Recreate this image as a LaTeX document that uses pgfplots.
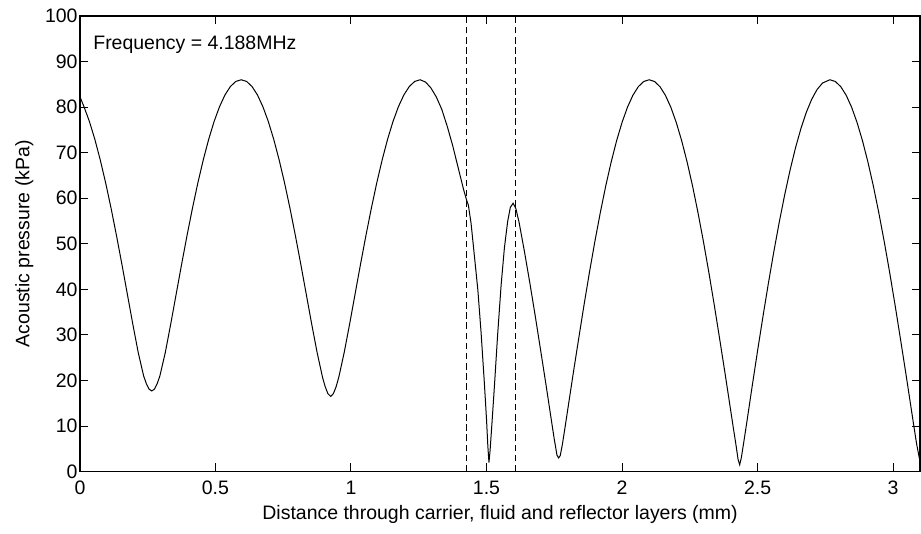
\documentclass[border=0pt]{standalone}
\usepackage{fontspec}
\setmainfont{Liberation Sans}
\usepackage{pgfplots}
\pgfplotsset{compat=1.18}
\begin{document}
\begin{tikzpicture}
\fontsize{9.75}{11.5}\selectfont
\begin{axis}[
  at={(0,0)}, anchor=south west,
  width=420.5pt, height=228pt, scale only axis,
  xmin=0, xmax=3.1, ymin=0, ymax=100,
  xtick={0,0.5,1,1.5,2,2.5,3},
  ytick={0,10,20,30,40,50,60,70,80,90,100},
  tick align=inside, major tick length=4.2pt,
  axis line style={line width=0.75pt},
  every tick/.style={black, line width=0.5pt},
  /pgf/number format/assume math mode=true,
  tick label style={font=\fontsize{9.75}{11.5}\selectfont},
  yticklabel style={inner sep=1pt},
  xticklabel style={yshift=-1.4pt},
  clip=true,
]
% carrier, fluid and reflector layers
\addplot[black, line width=0.5pt] coordinates {
(0,82.3) (0.015,80.09) (0.035,76.84) (0.055,72.93) (0.075,68.41) (0.095,63.34)
(0.115,57.77) (0.135,51.77) (0.155,45.45) (0.175,38.93) (0.195,32.39) (0.215,26.15)
(0.235,21.0) (0.245,19.3) (0.255,18.1) (0.265,17.7) (0.275,18.1) (0.285,19.3)
(0.295,21.0) (0.315,26.15) (0.335,32.39) (0.355,38.93) (0.375,45.45) (0.395,51.77)
(0.415,57.77) (0.435,63.34) (0.455,68.41) (0.475,72.93) (0.495,76.84) (0.515,80.09)
(0.535,82.66) (0.555,84.51) (0.575,85.63) (0.595,86.0) (0.615,85.63) (0.635,84.51)
(0.655,82.66) (0.675,80.09) (0.695,76.84) (0.715,72.93) (0.735,68.41) (0.755,63.34)
(0.775,57.77) (0.795,51.77) (0.815,45.45) (0.835,38.93) (0.855,32.39) (0.875,26.15)
(0.895,20.7) (0.905,18.6) (0.915,17.1) (0.925,16.5) (0.935,17.1) (0.945,18.6)
(0.955,20.7) (0.975,26.15) (0.995,32.39) (1.015,38.93) (1.035,45.45) (1.055,51.77)
(1.075,57.77) (1.095,63.34) (1.115,68.41) (1.135,72.93) (1.155,76.84) (1.175,80.09)
(1.195,82.66) (1.215,84.51) (1.235,85.63) (1.255,86.0) (1.275,85.5) (1.295,84.2)
(1.315,82.2) (1.335,79.5) (1.355,75.8) (1.375,71.6) (1.395,66.8) (1.415,62.0)
(1.427,59.5)
(1.433,58.5) (1.443,54.5) (1.455,47.5) (1.468,39.9) (1.480,30.5) (1.492,19.5)
(1.500,11.5) (1.505,5.5) (1.509,2.0) (1.513,4.5) (1.520,10.5) (1.529,18.6)
(1.541,30.0) (1.554,41.0) (1.566,49.1) (1.578,54.9) (1.588,58.0) (1.598,58.9)
(1.608,57.8)
(1.62,54.75) (1.64,48.27) (1.66,41.35) (1.68,34.07) (1.70,26.5) (1.72,18.85)
(1.74,10.99) (1.75,7.1) (1.76,3.6) (1.766,3.0) (1.772,3.5) (1.78,6.0) (1.79,9.82)
(1.80,13.74) (1.82,21.57) (1.84,29.17) (1.86,36.66) (1.88,43.82) (1.90,50.58)
(1.92,56.89) (1.94,62.73) (1.96,67.97) (1.98,72.63) (2.00,76.63) (2.02,79.97)
(2.04,82.59) (2.06,84.48) (2.08,85.62) (2.10,86.0) (2.12,85.62) (2.14,84.48)
(2.16,82.59) (2.18,79.97) (2.20,76.63) (2.22,72.63) (2.24,67.97) (2.26,62.73)
(2.28,56.89) (2.30,50.58) (2.32,43.82) (2.34,36.66) (2.36,29.17) (2.38,21.57)
(2.40,13.74) (2.41,9.82) (2.42,6.0) (2.428,2.7) (2.434,1.5) (2.44,3.0) (2.45,6.8)
(2.46,10.7) (2.48,18.7) (2.50,26.5) (2.52,34.07) (2.54,41.35) (2.56,48.27)
(2.58,54.75) (2.60,60.73) (2.62,66.19) (2.64,71.07) (2.66,75.30) (2.68,78.88)
(2.70,81.75) (2.72,83.90) (2.74,85.30) (2.767,86.0) (2.787,85.62) (2.807,84.48)
(2.827,82.59) (2.847,79.97) (2.867,76.63) (2.887,72.63) (2.907,67.97) (2.927,62.73)
(2.947,56.89) (2.967,50.58) (2.987,43.82) (3.007,36.66) (3.027,29.17) (3.047,21.57)
(3.067,13.74) (3.077,9.82) (3.087,6.0) (3.1,2.0)
};
% layer boundaries
\addplot[black, line width=0.5pt, dash pattern=on 3.3pt off 1.8pt] coordinates {(1.427,0) (1.427,100)};
\addplot[black, line width=0.5pt, dash pattern=on 3.3pt off 1.8pt] coordinates {(1.607,0) (1.607,100)};
\node[anchor=base west, inner sep=0pt] at (rel axis cs:0.0155,0.927) {Frequency = 4.188MHz};
\coordinate (xl) at (rel axis cs:0.5,0);
\coordinate (yl) at (rel axis cs:0,0.5);
\end{axis}
\node[anchor=base, inner sep=0pt] at ([yshift=-24pt]xl) {Distance through carrier, fluid and reflector layers (mm)};
\node[anchor=base, rotate=90, inner sep=0pt] at ([xshift=-25.3pt]yl) {Acoustic pressure (kPa)};
\pgfresetboundingbox
\path[use as bounding box] (-40pt,-31pt) rectangle (420.9pt,236pt);
\end{tikzpicture}
\end{document}
